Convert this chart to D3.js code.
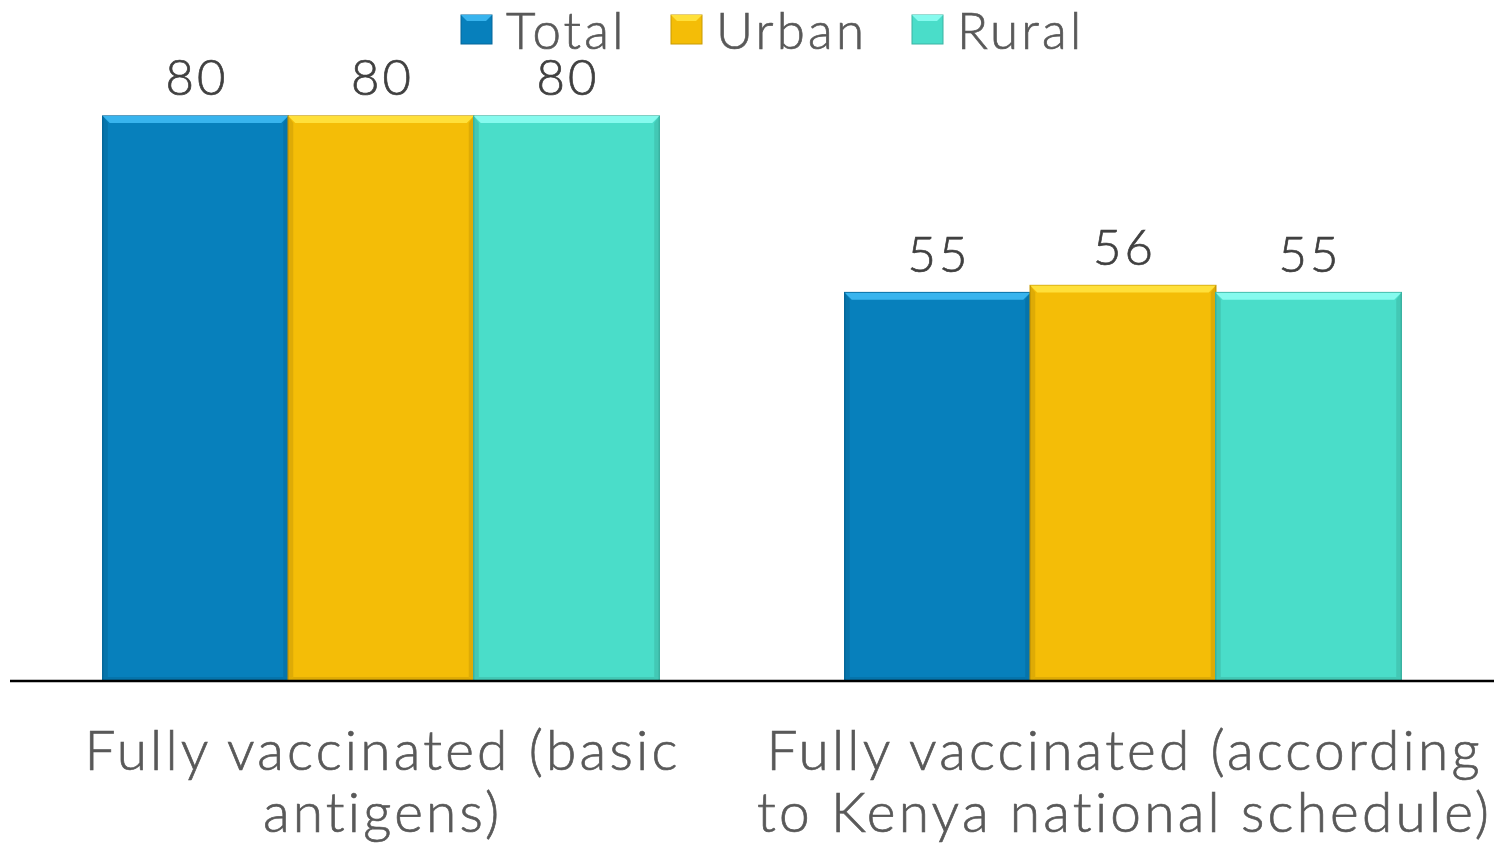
<!DOCTYPE html>
<html><head><meta charset="utf-8">
<script src="https://cdn.jsdelivr.net/npm/d3@7"></script>
<style>body{margin:0;background:#fff;}svg{display:block;} text{font-variant-ligatures:none;}</style>
</head><body>
<script>
const categories = [["Fully vaccinated (basic","antigens)"],["Fully vaccinated (according","to Kenya national schedule)"]];
const seriesNames = ["Total","Urban","Rural"];
const totalValues = [80,55];
const urbanValues = [80,56];
const ruralValues = [80,55];
const seriesValues = [totalValues, urbanValues, ruralValues];
const colors = {Total:"#0780BC", Urban:"#F4BD07", Rural:"#4ADDC9"};
const topColors = {Total:"#38B4EE", Urban:"#FFE03A", Rural:"#86FAEE"};
const edgeColors = {Total:"#06679A", Urban:"#C89A05", Rural:"#3BB3A2"};

const W=1494,H=843;
const svg=d3.select("body").append("svg").attr("width",W).attr("height",H);
const font="Lato, 'Noto Sans', sans-serif";

const catIdx=categories.map((d,i)=>i);
const x0=d3.scaleBand().domain(catIdx).range([10,1494]).paddingInner(0.25).paddingOuter(0.125);
const x1=d3.scaleBand().domain(seriesNames).range([0,x0.bandwidth()]);
const y=d3.scaleLinear().domain([0,90]).range([681,45.5]);

const rows=[];
catIdx.forEach(ci=>seriesNames.forEach((s,si)=>rows.push({ci,s,v:seriesValues[si][ci]})));

const g=svg.append("g");
const bars=g.selectAll("g.bar").data(rows).join("g").attr("class","bar");
bars.append("rect")
  .attr("x",d=>x0(d.ci)+x1(d.s)).attr("y",d=>y(d.v))
  .attr("width",x1.bandwidth()).attr("height",d=>y(0)-y(d.v))
  .attr("fill",d=>colors[d.s]).attr("stroke",d=>edgeColors[d.s]).attr("stroke-width",1.5);
bars.append("path")
  .attr("d",d=>{const xl=x0(d.ci)+x1(d.s), xr=xl+x1.bandwidth(), t=y(d.v);
    return `M${xl},${t}L${xr},${t}L${xr-7},${t+7}L${xl+7},${t+7}Z`;})
  .attr("fill",d=>topColors[d.s]);
bars.append("path")
  .attr("d",d=>{const xl=x0(d.ci)+x1(d.s), t=y(d.v), b=y(0);
    return `M${xl},${t}L${xl+5},${t+7}L${xl+5},${b-4}L${xl},${b}Z`;})
  .attr("fill",d=>edgeColors[d.s]).attr("opacity",0.5);
bars.append("path")
  .attr("d",d=>{const xr=x0(d.ci)+x1(d.s)+x1.bandwidth(), t=y(d.v), b=y(0);
    return `M${xr},${t}L${xr-5},${t+7}L${xr-5},${b-4}L${xr},${b}Z`;})
  .attr("fill",d=>edgeColors[d.s]).attr("opacity",0.5);
bars.append("path")
  .attr("d",d=>{const xl=x0(d.ci)+x1(d.s), xr=xl+x1.bandwidth(), b=y(0);
    return `M${xl},${b}L${xr},${b}L${xr-5},${b-4}L${xl+5},${b-4}Z`;})
  .attr("fill",d=>edgeColors[d.s]).attr("opacity",0.5);

g.selectAll("text.val").data(rows).join("text").attr("class","val")
  .attr("x",d=>x0(d.ci)+x1(d.s)+x1.bandwidth()/2+1.5).attr("y",d=>y(d.v)-21)
  .attr("text-anchor","middle").attr("font-family",font).attr("font-size",49).attr("font-weight",300)
  .attr("letter-spacing",3).attr("fill","#404040").attr("stroke","#404040").attr("stroke-width",0.7)
  .text(d=>d.v);

const xAxis=d3.axisBottom(x0).tickSize(0).tickFormat("");
const ax=svg.append("g").attr("transform",`translate(0,${y(0)})`).call(xAxis);
ax.select(".domain").attr("stroke","#000").attr("stroke-width",2.5).attr("d","M10,0H1494");

const cl=svg.selectAll("text.cat").data(catIdx).join("text").attr("class","cat")
  .attr("text-anchor","middle").attr("font-family",font).attr("font-size",55).attr("font-weight",300)
  .attr("letter-spacing",3.2).attr("fill","#595959").attr("stroke","#595959").attr("stroke-width",0.7);
cl.each(function(ci){
  const t=d3.select(this);
  categories[ci].forEach((line,li)=>t.append("tspan").attr("x",x0(ci)+x0.bandwidth()/2+1.6).attr("y",770+li*62).text(line));
});

const legX=[461,671,912];
const leg=svg.selectAll("g.leg").data(seriesNames).join("g").attr("class","leg")
  .attr("transform",(d,i)=>`translate(${legX[i]},15)`);
leg.append("rect").attr("width",31).attr("height",29).attr("fill",d=>colors[d]).attr("stroke",d=>edgeColors[d]);
leg.append("path").attr("d","M0,0H31L25,6H6Z").attr("fill",d=>topColors[d]);
leg.append("text").attr("x",45).attr("y",34).attr("font-family",font).attr("font-size",51).attr("font-weight",300)
  .attr("letter-spacing",3.2).attr("fill","#595959").attr("stroke","#595959").attr("stroke-width",0.7)
  .text(d=>d);
</script>
</body></html>
